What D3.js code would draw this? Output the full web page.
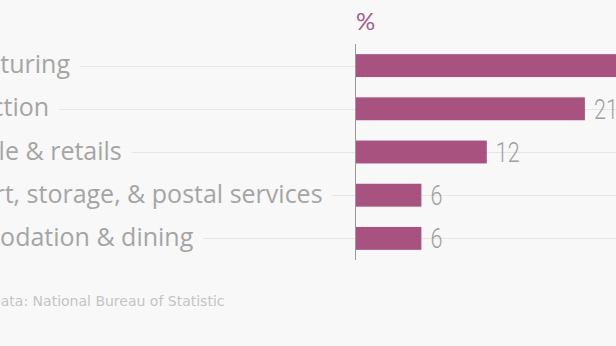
<!DOCTYPE html>
<html><head><meta charset="utf-8">
<script src="https://cdn.jsdelivr.net/npm/d3@7"></script>
<style>
html,body{margin:0;padding:0;background:#f8f8f8;overflow:hidden;}
svg{display:block;}
</style></head>
<body>
<svg id="chart" width="616" height="346"></svg>
<script>
const categories = ["Manufacturing", "Construction", "Wholesale & retails", "Transport, storage, & postal services", "Accommodation & dining"];
const values = [32, 21, 12, 6, 6];
const unitLabel = "%";
const sourceText = "Data: National Bureau of Statistic";

const W = 616, H = 346;
const svg = d3.select("#chart");
svg.append("rect").attr("width", W).attr("height", H).attr("fill", "#f8f8f8");

const axisX = 356;
const x = d3.scaleLinear().domain([0, 30]).range([axisX, axisX + 327]);
const y = d3.scaleBand().domain(categories).range([44, 260]).paddingInner(0.47).paddingOuter(0.235);

const labelX = -101;
const rows = svg.append("g");
categories.forEach((c, i) => {
  const cy = y(c) + y.bandwidth() / 2;
  const t = rows.append("text")
    .attr("x", labelX).attr("y", cy).attr("dy", "0.3em")
    .attr("font-family", "'Open Sans', sans-serif")
    .attr("font-size", 25).attr("fill", "#a5a5a5")
    .text(c);
  const end = labelX + t.node().getComputedTextLength();
  rows.insert("line", "text")
    .attr("x1", end + 10).attr("x2", W)
    .attr("y1", Math.round(cy) + 0.5).attr("y2", Math.round(cy) + 0.5)
    .attr("stroke", "#e6e6e6").attr("stroke-width", 1);
});

svg.append("g").selectAll("rect").data(values).join("rect")
  .attr("x", x(0))
  .attr("y", (d, i) => y(categories[i]))
  .attr("width", d => x(d) - x(0))
  .attr("height", y.bandwidth())
  .attr("fill", "#a8527f");

svg.append("g").selectAll("text").data(values).join("text")
  .attr("transform", (d, i) => `translate(${x(d) + 9},${y(categories[i]) + y.bandwidth() / 2}) scale(0.8,1)`)
  .attr("dy", "0.37em")
  .attr("font-family", "Roboto, sans-serif")
  .attr("font-weight", 300)
  .attr("font-size", 27).attr("fill", "#a0a0a0")
  .text(d => d);

svg.append("line")
  .attr("x1", axisX - 0.5).attr("x2", axisX - 0.5)
  .attr("y1", 44).attr("y2", 260)
  .attr("stroke", "#9a9a9a").attr("stroke-width", 1);

svg.append("text")
  .attr("x", axisX).attr("y", 30)
  .attr("font-family", "Lato, sans-serif")
  .attr("font-size", 24).attr("fill", "#a0608c")
  .text(unitLabel);

svg.append("text")
  .attr("x", -10).attr("y", 306)
  .attr("font-family", "'DejaVu Sans', sans-serif")
  .attr("font-size", 14).attr("fill", "#c4c4c4")
  .text(sourceText);
</script>
</body></html>
